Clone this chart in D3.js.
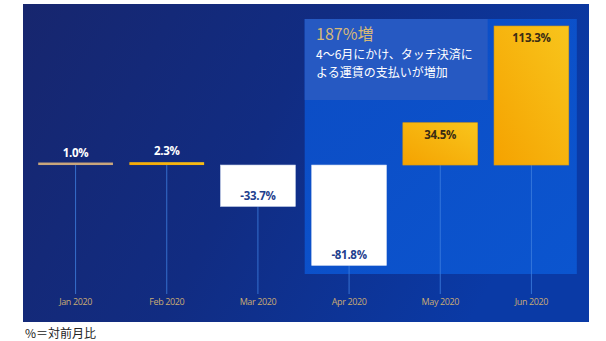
<!DOCTYPE html>
<html><head><meta charset="utf-8">
<script src="https://cdn.jsdelivr.net/npm/d3@7"></script>
<style>
html,body{margin:0;padding:0;background:#fff;}
svg{display:block;}
</style></head>
<body>
<svg id="chart" width="606" height="341"></svg>
<script>
const categories = ["Jan 2020","Feb 2020","Mar 2020","Apr 2020","May 2020","Jun 2020"];
const values = [1.0, 2.3, -33.7, -81.8, 34.5, 113.3];
const valueLabels = ["1.0%","2.3%","-33.7%","-81.8%","34.5%","113.3%"];
const calloutTitle = "187%増";
const calloutLines = ["4～6月にかけ、タッチ決済に","よる運賃の支払いが増加"];
const footnote = "%＝対前月比";
const highlightCats = ["Apr 2020","Jun 2020"];

const svg = d3.select("#chart");
const defs = svg.append("defs");

const bg = defs.append("linearGradient").attr("id","bg").attr("x1","0").attr("y1","0").attr("x2","1").attr("y2","0.3");
bg.append("stop").attr("offset","0").attr("stop-color","#17266e");
bg.append("stop").attr("offset","0.5").attr("stop-color","#112c82");
bg.append("stop").attr("offset","1").attr("stop-color","#0a3aa6");

const gold = defs.append("linearGradient").attr("id","gold").attr("x1","1").attr("y1","0").attr("x2","0").attr("y2","1");
gold.append("stop").attr("offset","0").attr("stop-color","#f8c51c");
gold.append("stop").attr("offset","1").attr("stop-color","#f5a200");

const hl = defs.append("linearGradient").attr("id","hl").attr("x1","0").attr("y1","0").attr("x2","1").attr("y2","1");
hl.append("stop").attr("offset","0").attr("stop-color","#0c4cc4");
hl.append("stop").attr("offset","1").attr("stop-color","#0b55cf");

// panel
svg.append("rect").attr("x",23).attr("y",4).attr("width",566).attr("height",318).attr("fill","url(#bg)");

const x = d3.scaleBand().domain(categories).range([30,577]).paddingInner(0.18).paddingOuter(0.09);
const y = d3.scaleLinear().domain([-110,120]).range([300,17.8]);

// highlight region
const hx0 = x(highlightCats[0]) - 7;
const hx1 = x(highlightCats[1]) + x.bandwidth() + 8;
svg.append("rect").attr("x",hx0).attr("y",19).attr("width",hx1-hx0).attr("height",255).attr("fill","url(#hl)");
svg.append("rect").attr("x",hx0).attr("y",19).attr("width",183).attr("height",81).attr("fill","#2659c2");

// vertical lines
svg.append("g").selectAll("line").data(categories).join("line")
  .attr("x1",d=>x(d)+x.bandwidth()/2).attr("x2",d=>x(d)+x.bandwidth()/2)
  .attr("y1",(d,i)=>values[i]<0?y(values[i]):y(0))
  .attr("y2",294)
  .attr("stroke","#3f7fe0").attr("stroke-width",1).attr("stroke-opacity",0.8);

// bars
const barColor = (v,i)=> v<0 ? "#ffffff" : (i===0 ? "#c9a67c" : "url(#gold)");
svg.append("g").selectAll("rect").data(values).join("rect")
  .attr("x",(d,i)=>x(categories[i]))
  .attr("width",x.bandwidth())
  .attr("y",d=> d>=0 ? Math.min(y(d), y(0)-2.5) : y(0))
  .attr("height",d=> Math.max(Math.abs(y(d)-y(0)),2.5))
  .attr("fill",(d,i)=>barColor(d,i))
  .attr("stroke",(d,i)=> d<0 ? "#d8e2f4" : (Math.abs(d)>10 ? "#d99a10" : "none"))
  .attr("stroke-width",0.6);

// value labels
svg.append("g").selectAll("text").data(values).join("text")
  .attr("x",(d,i)=>x(categories[i])+x.bandwidth()/2)
  .attr("y",d=> d<0 ? y(d)-6 : (d>10 ? y(d)+16 : y(d)-7))
  .attr("text-anchor","middle")
  .attr("font-family","'Open Sans', sans-serif")
  .attr("font-weight","bold")
  .attr("font-size","11.5px")
  .attr("letter-spacing","-0.3")
  .attr("fill",d=> d<0 ? "#1f3f8e" : (d>10 ? "#3a2c14" : "#ffffff"))
  .text((d,i)=>valueLabels[i]);

// axis labels
const axis = d3.axisBottom(x).tickSize(0).tickPadding(0);
const ag = svg.append("g").attr("transform","translate(0,299)").call(axis);
ag.select(".domain").remove();
ag.selectAll("text").attr("fill","#c9ab74").attr("font-family","'Open Sans', sans-serif").attr("font-size","9px").attr("letter-spacing","-0.4");

// callout text
svg.append("text").attr("x",316).attr("y",40).attr("fill","#d6b878")
  .attr("font-family","'Noto Sans CJK JP', sans-serif").attr("font-size","16px").text(calloutTitle);
svg.append("g").selectAll("text").data(calloutLines).join("text")
  .attr("x",316).attr("y",(d,i)=>59+i*17.5)
  .attr("fill","#ffffff").attr("font-family","'Noto Sans CJK JP', sans-serif").attr("font-size","12px")
  .attr("letter-spacing","0")
  .text(d=>d);

// footnote
svg.append("text").attr("x",25).attr("y",338).attr("fill","#222")
  .attr("font-family","'Noto Sans CJK JP', sans-serif").attr("font-size","12px").text(footnote);
</script>
</body></html>
